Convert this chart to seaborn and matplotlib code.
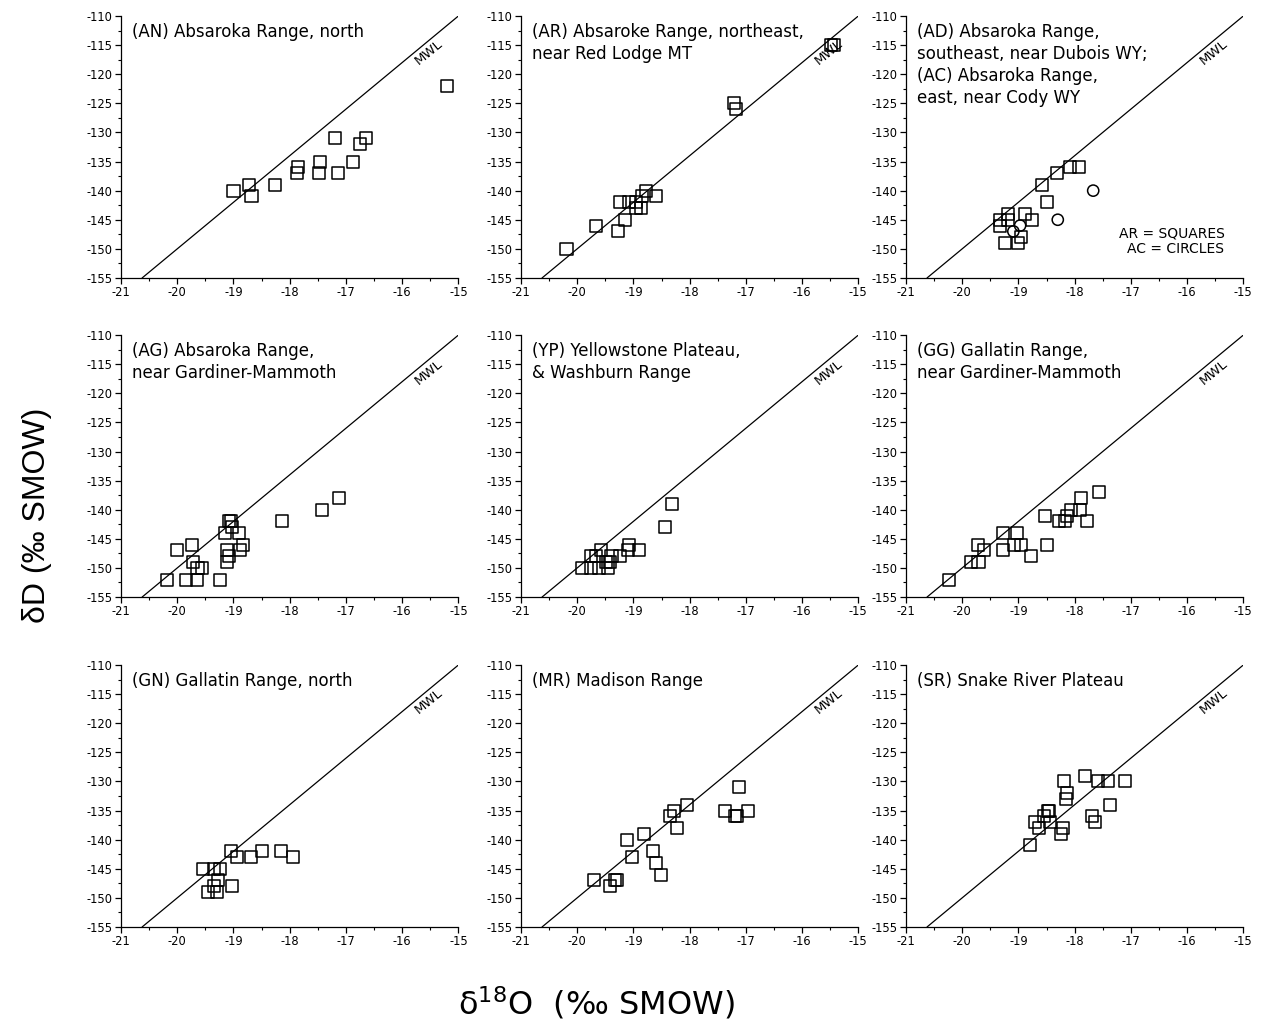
import matplotlib
matplotlib.use("Agg")
import matplotlib.pyplot as plt
from matplotlib.ticker import MultipleLocator
import seaborn as sns
import pandas as pd

# --- measurements: δ18O and δD (‰ SMOW) per region ---
an_d18o = [-19.0, -18.72, -18.68, -18.27, -17.86, -17.87, -17.46, -17.48, -17.20, -17.15, -16.88, -16.75, -16.65, -15.20]
an_dD = [-140, -139, -141, -139, -136, -137, -135, -137, -131, -137, -135, -132, -131, -122]

ar_d18o = [-20.19, -19.66, -19.27, -19.24, -19.15, -19.08, -18.96, -18.96, -18.86, -18.84, -18.77, -18.59, -17.22, -17.17, -15.49, -15.44]
ar_dD = [-150, -146, -147, -142, -145, -142, -142, -143, -143, -141, -140, -141, -125, -126, -115, -115]

ad_d18o = [-19.33, -19.33, -19.19, -19.19, -19.24, -19.00, -18.95, -18.89, -18.76, -18.58, -18.50, -18.32, -18.09, -17.93]
ad_dD = [-145, -146, -144, -145, -149, -149, -148, -144, -145, -139, -142, -137, -136, -136]
ac_d18o = [-19.09, -18.97, -18.30, -17.67]
ac_dD = [-147, -146, -145, -140]

ag_d18o = [-20.18, -20.0, -19.74, -19.72, -19.85, -19.65, -19.64, -19.56, -19.24, -19.15, -19.12, -19.11, -19.08, -19.08, -19.05, -19.02, -18.91, -18.88, -18.83, -18.13, -17.42, -17.12]
ag_dD = [-152, -147, -146, -149, -152, -152, -150, -150, -152, -144, -149, -147, -148, -142, -142, -143, -144, -147, -146, -142, -140, -138]

yp_d18o = [-19.91, -19.76, -19.76, -19.66, -19.62, -19.57, -19.49, -19.46, -19.42, -19.39, -19.24, -19.10, -19.07, -18.90, -18.44, -18.32]
yp_dD = [-150, -148, -150, -148, -150, -147, -149, -150, -149, -148, -148, -147, -146, -147, -143, -139]

gg_d18o = [-20.24, -19.84, -19.71, -19.72, -19.61, -19.28, -19.27, -19.08, -19.03, -18.96, -18.77, -18.53, -18.49, -18.28, -18.18, -18.14, -18.06, -17.91, -17.88, -17.78, -17.56]
gg_dD = [-152, -149, -149, -146, -147, -147, -144, -146, -144, -146, -148, -141, -146, -142, -142, -141, -140, -140, -138, -142, -137]

gn_d18o = [-19.55, -19.34, -19.24, -19.46, -19.30, -19.34, -19.27, -19.04, -19.02, -18.93, -18.69, -18.49, -18.15, -17.94]
gn_dD = [-145, -145, -145, -149, -149, -148, -147, -142, -148, -143, -143, -142, -142, -143]

mr_d18o = [-19.70, -19.42, -19.33, -19.30, -19.12, -19.02, -18.82, -18.66, -18.59, -18.51, -18.35, -18.27, -18.22, -18.04, -17.37, -17.20, -17.15, -17.12, -16.96]
mr_dD = [-147, -148, -147, -147, -140, -143, -139, -142, -144, -146, -136, -135, -138, -134, -135, -136, -136, -131, -135]

sr_d18o = [-18.79, -18.71, -18.63, -18.54, -18.48, -18.46, -18.44, -18.24, -18.20, -18.19, -18.16, -18.14, -17.82, -17.69, -17.63, -17.59, -17.40, -17.37, -17.11]
sr_dD = [-141, -137, -138, -136, -135, -135, -137, -139, -138, -130, -133, -132, -129, -136, -137, -130, -130, -134, -130]

titles = [
    "(AN) Absaroka Range, north",
    "(AR) Absaroke Range, northeast,\nnear Red Lodge MT",
    "(AD) Absaroka Range,\nsoutheast, near Dubois WY;\n(AC) Absaroka Range,\neast, near Cody WY",
    "(AG) Absaroka Range,\nnear Gardiner-Mammoth",
    "(YP) Yellowstone Plateau,\n& Washburn Range",
    "(GG) Gallatin Range,\nnear Gardiner-Mammoth",
    "(GN) Gallatin Range, north",
    "(MR) Madison Range",
    "(SR) Snake River Plateau",
]
square_sets = [(an_d18o, an_dD), (ar_d18o, ar_dD), (ad_d18o, ad_dD),
               (ag_d18o, ag_dD), (yp_d18o, yp_dD), (gg_d18o, gg_dD),
               (gn_d18o, gn_dD), (mr_d18o, mr_dD), (sr_d18o, sr_dD)]

# meteoric water line: δD = 8·δ18O + 10
mwl_slope = 8.0
mwl_intercept = 10.0

sns.set_style("ticks")
plt.rcParams["font.family"] = ["DejaVu Sans"]
plt.rcParams["axes.unicode_minus"] = False
plt.rcParams["mathtext.default"] = "regular"
for key in ("text.color", "axes.labelcolor", "axes.edgecolor", "xtick.color", "ytick.color"):
    plt.rcParams[key] = "black"

fig = plt.figure(figsize=(12.66, 10.31), dpi=100)

lefts = [0.0956, 0.4115, 0.7156]
bottoms = [0.7304, 0.4209, 0.1009]
w, h = 0.2665, 0.2541

for i, (title, (xs, ys)) in enumerate(zip(titles, square_sets)):
    r, c = divmod(i, 3)
    ax = fig.add_axes([lefts[c], bottoms[r], w, h])
    df = pd.DataFrame({"d18o": xs, "dD": ys})
    ax.axline((0, mwl_intercept), slope=mwl_slope, color="black", lw=0.9, zorder=1)
    sns.scatterplot(data=df, x="d18o", y="dD", ax=ax, marker="s", s=75,
                    facecolor="none", edgecolor="black", linewidth=1.1, zorder=3)
    if i == 2:
        dfc = pd.DataFrame({"d18o": ac_d18o, "dD": ac_dD})
        sns.scatterplot(data=dfc, x="d18o", y="dD", ax=ax, marker="o", s=65,
                        facecolor="none", edgecolor="black", linewidth=1.1, zorder=3)
        ax.text(0.944, 0.14, "AR = SQUARES\nAC = CIRCLES", transform=ax.transAxes,
                ha="right", va="center", fontsize=10, linespacing=1.2)
    ax.set_xlim(-21, -15)
    ax.set_ylim(-155, -110)
    ax.xaxis.set_major_locator(MultipleLocator(1))
    ax.xaxis.set_minor_locator(MultipleLocator(0.5))
    ax.yaxis.set_major_locator(MultipleLocator(5))
    ax.yaxis.set_minor_locator(MultipleLocator(2.5))
    ax.tick_params(which="major", direction="out", length=4, width=0.9, labelsize=8.3,
                   pad=2, colors="black")
    ax.tick_params(which="minor", direction="out", length=2.5, width=0.8, colors="black")
    for s in ("left", "bottom"):
        ax.spines[s].set_linewidth(0.9)
        ax.spines[s].set_color("black")
    sns.despine(ax=ax)
    ax.set_xlabel("")
    ax.set_ylabel("")
    ax.text(0.033, 0.975, title, transform=ax.transAxes, ha="left", va="top",
            fontsize=12, linespacing=1.3)
    ax.text(-15.52, -116.3, "MWL", rotation=39.5, rotation_mode="anchor",
            ha="center", va="center", fontsize=9.5)

fig.text(0.029, 0.5, "δD (‰ SMOW)", rotation=90, ha="center", va="center",
         fontsize=23, family="Liberation Sans")
fig.text(0.471, 0.027, "δ$^{18}$O  (‰ SMOW)", ha="center", va="center", fontsize=23)

fig.savefig("out.png", dpi=100)
